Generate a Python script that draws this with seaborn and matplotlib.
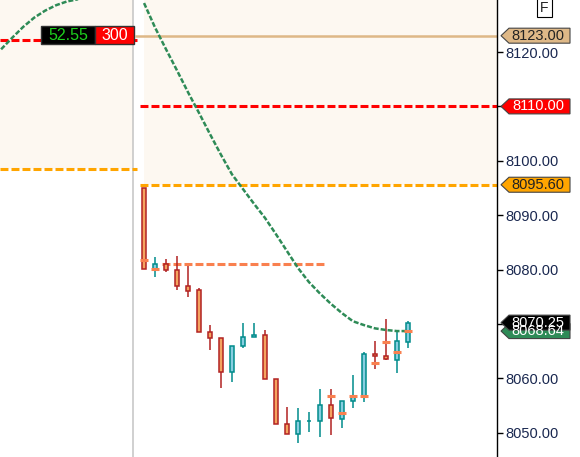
import numpy as np
import pandas as pd
import matplotlib
matplotlib.use('Agg')
import matplotlib.pyplot as plt
from matplotlib.patches import Polygon, Rectangle
import seaborn as sns

# candles of the current session (bar index 0..24)
opens = [8095.0, 8080.2, 8081.0, 8079.9, 8077.0, 8076.2, 8068.5, 8067.4, 8061.1, 8065.9,
         8067.7, 8067.9, 8059.8, 8051.7, 8049.7, 8052.1, 8052.1, 8055.1, 8052.6, 8055.8,
         8056.8, 8064.4, 8064.2, 8063.4, 8066.7]
highs = [8095.0, 8082.3, 8081.9, 8082.5, 8080.7, 8076.6, 8069.8, 8067.4, 8065.9, 8070.1,
         8070.1, 8068.9, 8059.8, 8054.7, 8054.6, 8053.8, 8058.1, 8058.1, 8055.8, 8060.6,
         8064.8, 8066.9, 8070.9, 8068.9, 8070.6]
lows = [8080.1, 8078.7, 8079.6, 8076.2, 8075.0, 8068.5, 8065.2, 8058.3, 8059.4, 8065.6,
        8067.7, 8059.8, 8051.7, 8049.7, 8048.2, 8050.2, 8049.3, 8049.6, 8050.8, 8054.6,
        8055.7, 8061.7, 8063.3, 8060.9, 8065.5]
closes = [8080.1, 8081.0, 8079.9, 8076.9, 8076.1, 8068.5, 8067.4, 8061.1, 8065.9, 8067.7,
          8067.9, 8059.8, 8051.7, 8049.7, 8052.1, 8052.1, 8055.1, 8052.7, 8055.8, 8056.8,
          8064.5, 8064.2, 8063.6, 8066.8, 8070.25]

# moving average, current and previous session
ma_idx = list(range(25))
ma_vals = [8129.0, 8124.5, 8120.5, 8116.6, 8112.6, 8108.8, 8104.9, 8101.1, 8097.5, 8094.8,
           8092.1, 8089.5, 8086.5, 8083.4, 8080.3, 8077.7, 8075.6, 8073.7, 8072.0, 8070.5,
           8069.8, 8069.2, 8068.9, 8068.7, 8068.7]
prev_ma_idx = [-13, -12, -11, -10, -9, -8, -7, -6]
prev_ma_vals = [8120.5, 8122.6, 8124.6, 8126.3, 8127.6, 8128.6, 8129.3, 8129.7]

# small salmon marks on some bars
mark_idx = [0, 1, 17, 18, 19, 20, 21, 22, 23, 24]
mark_vals = [8081.8, 8080.2, 8056.8, 8053.7, 8056.8, 8056.8, 8062.9, 8066.7, 8064.9, 8068.8]

yticks = [8050, 8060, 8070, 8080, 8090, 8100, 8110, 8120]
tan_level = 8123.0
red_level = 8110.0
orange_level = 8095.6
salmon_level = 8081.05
prev_red = 8122.2
prev_orange = 8098.5
last_price = 8070.25
ma_last = 8068.7

sns.set_style('white')
plt.rcParams['font.family'] = ['Liberation Sans', 'DejaVu Sans']

fig = plt.figure(figsize=(5.8, 4.57), dpi=100)
ax = fig.add_axes([0, 0, 497 / 580, 1])
x0, x1 = -13.1, 32.1
y0, y1 = 8045.55, 8129.56
ax.set_xlim(x0, x1)
ax.set_ylim(y0, y1)

# shaded zones
shade = '#fdf8f1'
ax.fill_between([x0, -1], prev_orange, y1 + 1, color=shade, lw=0, zorder=0)
ax.fill_between([0, x1], orange_level, y1 + 1, color=shade, lw=0, zorder=0)
ax.axvline(-1, color='#c4c4c4', lw=1.1, zorder=1)

# level lines
dash = (0, (2.6, 1.0))
ax.hlines(prev_red, x0, -0.6, color='#ff0000', lw=2.2, linestyles=[dash], zorder=1)
ax.hlines(prev_orange, x0, -0.6, color='#ffa500', lw=2.2, linestyles=[dash], zorder=1)
ax.hlines(tan_level, -0.85, x1, color='#deb887', lw=1.8, zorder=1)
ax.hlines(red_level, -0.36, x1, color='#ff0000', lw=2.2, linestyles=[dash], zorder=1)
ax.hlines(orange_level, -0.36, x1, color='#ffa500', lw=2.2, linestyles=[dash], zorder=1)
ax.hlines(salmon_level, 1.6, 16.5, color='#f9804f', lw=2.2, linestyles=[dash], zorder=1)

# moving average
ma = pd.DataFrame({'i': ma_idx, 'v': ma_vals})
prev = pd.DataFrame({'i': prev_ma_idx, 'v': prev_ma_vals})
for d in (prev, ma):
    sns.lineplot(data=d, x='i', y='v', ax=ax, color='#2e8b57', lw=1.8,
                 linestyle=(0, (2.0, 0.8)), zorder=4)

# candles
for i, (o, h, l, c) in enumerate(zip(opens, highs, lows, closes)):
    if c >= o:
        fill, edge = '#87cee0', '#008b8b'
    else:
        fill, edge = '#f4a460', '#b22222'
    ax.vlines(i, l, h, color=edge, lw=1.1, zorder=2)
    ax.bar(i, max(abs(c - o), 0.02), bottom=min(o, c), width=0.33, color=fill,
           edgecolor=edge, linewidth=1.1, zorder=3)

ax.hlines(mark_vals, np.array(mark_idx) - 0.4, np.array(mark_idx) + 0.4,
          color='#f9804f', lw=2.2, zorder=5)

# axis styling
for s in ['left', 'top', 'bottom']:
    ax.spines[s].set_visible(False)
ax.spines['right'].set_color('black')
ax.spines['right'].set_linewidth(1.0)
ax.set_xticks([])
ax.yaxis.tick_right()
ax.set_yticks(yticks)
ax.set_yticklabels(['%.2f' % v for v in yticks])
ax.tick_params(axis='y', direction='out', length=4, width=1, color='black',
               labelcolor='#1a2850', labelsize=10.5, pad=2)
ax.set_xlabel('')
ax.set_ylabel('')

# price tags on the right
tr = ax.get_yaxis_transform()
hh = 7.5 / 5.443


def tag(y, text, fc, tc):
    xa, xb, xc = 501 / 497, 509 / 497, 570 / 497
    poly = Polygon([(xa, y), (xb, y + hh), (xc, y + hh), (xc, y - hh), (xb, y - hh)],
                   closed=True, transform=tr, facecolor=fc, edgecolor='#444444',
                   lw=0.8, clip_on=False, zorder=6)
    ax.add_patch(poly)
    ax.text(538 / 497, y, text, transform=tr, ha='center', va='center',
            fontsize=10.5, color=tc, clip_on=False, zorder=7)


tag(tan_level, '%.2f' % tan_level, '#deb887', '#222222')
tag(red_level, '%.2f' % red_level, '#ff0000', 'white')
tag(orange_level, '%.2f' % orange_level, '#ffa500', '#222222')
tag(ma_last, '8068.64', '#2e8b57', 'white')
tag(last_price, '%.2f' % last_price, 'black', 'white')

# boxes at top left
fig.patches.append(Rectangle((41 / 580, 1 - 44 / 457), 54 / 580, 18 / 457,
                             transform=fig.transFigure, facecolor='black',
                             edgecolor='#333333', lw=1))
fig.patches.append(Rectangle((95 / 580, 1 - 44 / 457), 39 / 580, 18 / 457,
                             transform=fig.transFigure, facecolor='#ff0000',
                             edgecolor='#333333', lw=1))
fig.text(68 / 580, 1 - 35 / 457, '52.55', ha='center', va='center', fontsize=11.5,
         color='#1ed21e')
fig.text(114.5 / 580, 1 - 35 / 457, '300', ha='center', va='center', fontsize=11.5,
         color='white')

fig.text(544.5 / 580, 1 - 7.5 / 457, 'F', ha='center', va='center', fontsize=10,
         color='#222222',
         bbox=dict(boxstyle='square,pad=0.2', fc='white', ec='black', lw=0.8))

plt.savefig('out.png', dpi=100)
